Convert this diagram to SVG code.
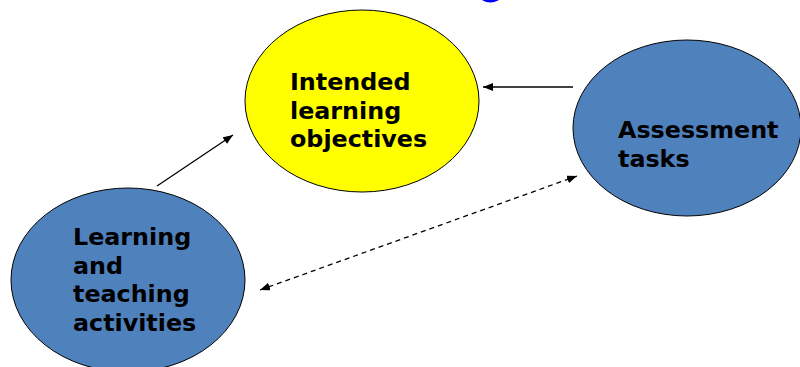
<svg xmlns="http://www.w3.org/2000/svg" width="800" height="367" viewBox="0 0 800 367">
<style>
.lbl{font-family:"DejaVu Sans",Verdana,sans-serif;font-weight:bold;font-size:23.8px;fill:#000}
.blue{fill:#4F81BD;stroke:#000;stroke-width:1}
.yel{fill:#FFFF00;stroke:#000;stroke-width:1}
.con{stroke:#000;stroke-width:1.3;fill:none}
</style>
<defs>
<marker id="ah" viewBox="0 0 10 8" refX="10" refY="4" markerWidth="10" markerHeight="8" markerUnits="userSpaceOnUse" orient="auto-start-reverse">
<path d="M0,0 L10,4 L0,8 z" fill="#000"/>
</marker>
</defs>
<rect width="800" height="367" fill="#fff"/>
<path d="M483,-1 Q490,3 498,-1" stroke="#0000FF" stroke-width="3" fill="none"/>
<g id="intended">
<ellipse class="yel" cx="362" cy="101" rx="117" ry="91"/>
<text class="lbl" x="290" y="90">Intended</text>
<text class="lbl" x="290" y="119">learning</text>
<text class="lbl" x="290" y="147">objectives</text>
</g>
<g id="assessment">
<ellipse class="blue" cx="687" cy="128" rx="114" ry="88"/>
<text class="lbl" x="618" y="138">Assessment</text>
<text class="lbl" x="618" y="167">tasks</text>
</g>
<g id="learning">
<ellipse class="blue" cx="128" cy="280" rx="117" ry="92"/>
<text class="lbl" x="73" y="245">Learning</text>
<text class="lbl" x="73" y="274">and</text>
<text class="lbl" x="73" y="302">teaching</text>
<text class="lbl" x="73" y="331">activities</text>
</g>
<g id="connectors">
<line class="con" x1="157" y1="186" x2="233" y2="135" marker-end="url(#ah)"/>
<line class="con" x1="573" y1="87" x2="483" y2="87" stroke="#333" marker-end="url(#ah)"/>
<line class="con" x1="260" y1="290" x2="577" y2="176" stroke-dasharray="5,4" marker-start="url(#ah)" marker-end="url(#ah)"/>
</g>
</svg>
